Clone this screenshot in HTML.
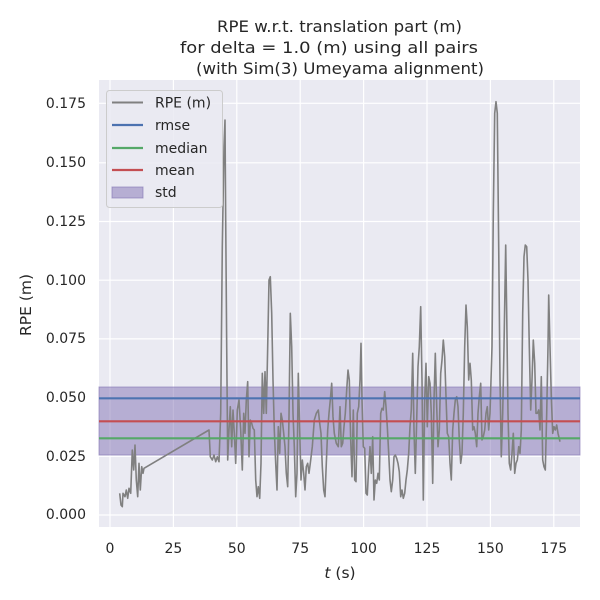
<!DOCTYPE html>
<html><head><style>body{margin:0;background:#fff}svg{display:block;font-family:"DejaVu Sans","Liberation Sans",sans-serif}</style></head>
<body>
<svg id="s" width="600" height="600" xmlns="http://www.w3.org/2000/svg">
<rect x="99" y="80" width="481" height="447" fill="#eaeaf2"/>
<g stroke="#fff" stroke-width="1.2">
<line x1="110" y1="80" x2="110" y2="527"/><line x1="173.4" y1="80" x2="173.4" y2="527"/><line x1="236.8" y1="80" x2="236.8" y2="527"/><line x1="300.2" y1="80" x2="300.2" y2="527"/><line x1="363.6" y1="80" x2="363.6" y2="527"/><line x1="427" y1="80" x2="427" y2="527"/><line x1="490.4" y1="80" x2="490.4" y2="527"/><line x1="553.8" y1="80" x2="553.8" y2="527"/>
<line x1="99" y1="515" x2="580" y2="515"/><line x1="99" y1="456.3" x2="580" y2="456.3"/><line x1="99" y1="397.6" x2="580" y2="397.6"/><line x1="99" y1="338.9" x2="580" y2="338.9"/><line x1="99" y1="280.2" x2="580" y2="280.2"/><line x1="99" y1="221.5" x2="580" y2="221.5"/><line x1="99" y1="162.8" x2="580" y2="162.8"/><line x1="99" y1="103.3" x2="580" y2="103.3"/>
</g>
<rect x="99" y="387" width="481" height="68" fill="#8172b3" fill-opacity="0.5" stroke="#8172b3" stroke-opacity="0.6"/>
<polyline id="p" fill="none" stroke="#808080" stroke-width="1.6" stroke-linejoin="round"/>
<line x1="99" y1="398.3" x2="580" y2="398.3" stroke="#4c72b0" stroke-width="2.2"/>
<line x1="99" y1="421.3" x2="580" y2="421.3" stroke="#c44e52" stroke-width="2.2"/>
<line x1="99" y1="438.3" x2="580" y2="438.3" stroke="#55a868" stroke-width="2.2"/>
<g font-size="14" fill="#262626">
<text x="217" y="32" font-size="16" textLength="245" lengthAdjust="spacingAndGlyphs">RPE w.r.t. translation part (m)</text>
<text x="180" y="53" font-size="16" textLength="298" lengthAdjust="spacingAndGlyphs">for delta = 1.0 (m) using all pairs</text>
<text x="196" y="74" font-size="16" textLength="288" lengthAdjust="spacingAndGlyphs">(with Sim(3) Umeyama alignment)</text>
<g text-anchor="end">
<text x="86" y="519">0.000</text><text x="86" y="461">0.025</text><text x="86" y="402">0.050</text><text x="86" y="343">0.075</text><text x="86" y="285">0.100</text><text x="86" y="226">0.125</text><text x="86" y="167">0.150</text><text x="86" y="108">0.175</text>
</g>
<g text-anchor="middle">
<text x="110" y="553">0</text><text x="173.4" y="553">25</text><text x="236.8" y="553">50</text><text x="300.2" y="553">75</text><text x="363.6" y="553">100</text><text x="427" y="553">125</text><text x="490.4" y="553">150</text><text x="553.8" y="553">175</text>
<text x="340" y="578" font-size="15.5"><tspan font-style="italic">t</tspan> (s)</text>
<text transform="translate(31,305) rotate(-90)" font-size="15.5">RPE (m)</text>
</g>
<rect x="106.5" y="90.5" width="116" height="117" rx="3" fill="#eaeaf2" fill-opacity="0.85" stroke="#ccc"/>
<line x1="112" y1="102.5" x2="143" y2="102.5" stroke="#808080" stroke-width="2"/>
<line x1="112" y1="125" x2="143" y2="125" stroke="#4c72b0" stroke-width="2.2"/>
<line x1="112" y1="148" x2="143" y2="148" stroke="#55a868" stroke-width="2.2"/>
<line x1="112" y1="170" x2="143" y2="170" stroke="#c44e52" stroke-width="2.2"/>
<rect x="112" y="187" width="31" height="11" fill="#8172b3" fill-opacity="0.5" stroke="#8172b3" stroke-opacity="0.6"/>
<text x="155" y="107.5">RPE (m)</text><text x="155" y="130">rmse</text><text x="155" y="153">median</text><text x="155" y="175">mean</text><text x="155" y="197">std</text>
</g>
</svg>
<script>
var a=[62,1240,66,1275,70,1280,72,1240,78,1250,82,1230,86,1255,90,1225,95,1240,100,1110,104,1170,108,1095,112,1200,116,1250,120,1150,124,1230,128,1160,132,1180,135,1165,330,1050,334,1130,340,1140,345,1125,350,1145,355,1130,360,1145,365,1000,370,500,375,200,378,120,380,420,383,800,386,1140,390,1050,394,980,398,1100,402,990,406,1060,410,1150,415,990,420,960,425,1050,430,1170,434,1000,438,1060,442,960,446,905,450,1130,454,1020,458,1030,462,1045,466,1050,470,1200,474,1250,478,1220,482,1255,486,1150,490,880,494,1000,498,875,502,1000,506,800,510,600,514,590,518,700,522,900,526,1050,530,1150,534,1230,538,1040,542,1120,546,1000,550,1020,554,1060,558,1100,562,1180,566,1220,570,1010,574,700,578,800,582,1000,586,1100,590,1250,594,1180,598,880,602,1050,606,1200,610,1140,614,1180,618,1230,622,1160,626,1150,630,1180,634,1150,640,1100,646,1020,652,1000,658,990,662,1030,666,1060,670,1160,674,1230,678,1250,682,1150,686,1050,690,1000,694,960,698,910,702,1010,706,1060,712,1090,718,1100];
var b=[0,980,4,1100,8,1090,12,1040,16,1000,20,930,24,870,28,900,32,1080,36,1190,40,990,44,1200,48,1205,52,1000,56,980,60,900,63,790,66,960,70,1100,74,1105,78,1240,82,1245,86,1160,90,1100,94,1180,98,1070,102,1260,106,1200,110,1210,114,1180,118,1200,122,1000,126,985,130,990,134,935,138,980,142,1040,146,1120,150,1200,154,1235,158,1200,162,1130,166,1125,170,1135,174,1150,178,1175,182,1250,186,1230,190,1255,194,1240,198,1200,202,1170,206,1120,210,1040,214,990,218,820,222,1050,226,1180,230,1020,234,860,238,800,242,680,246,900,250,1260,254,960,258,850,262,1040,266,890,270,910,274,1000,278,1210,282,960,286,820,290,980,294,1100,298,1050,302,880,306,840,310,780,314,830,318,950,322,1060,326,1070,330,1150,334,1200,338,1050,342,1000,346,960,350,950,354,980,358,1080,362,1150,366,1120,370,1000,374,800,378,675,382,740,386,900,390,850,394,900,398,1050,402,1040,406,1060,410,1100,414,1000,418,950,422,910,426,1080,430,1070,434,1050,438,1000,442,980,446,1050,450,1000,456,800,460,400,464,100,468,65,472,100,476,500,480,900,484,1130,488,1000,492,800,497,495,500,700,504,1000,508,1150,512,1170,516,1120,520,1060,524,1180,528,1150,532,1140,536,1100,540,1120,544,1050,548,700,552,530,556,495,560,500,564,600,568,800,572,990,576,900,580,780,584,850,588,1000,592,1000,596,990,600,1050,604,890,608,1140,612,1160,616,1170,620,1000,624,800,626,645,630,800,634,950,638,1060,642,1040,646,1050,650,1035,654,1060,660,1085];
var pts=[];
for(var i=0;i<a.length;i+=2)pts.push((99+a[i]/3).toFixed(1)+','+(80+a[i+1]/3).toFixed(1));
for(var i=0;i<b.length;i+=2)pts.push((340+b[i]/3).toFixed(1)+','+(80+b[i+1]/3).toFixed(1));
document.getElementById('p').setAttribute('points',pts.join(' '));
</script>
</body></html>
